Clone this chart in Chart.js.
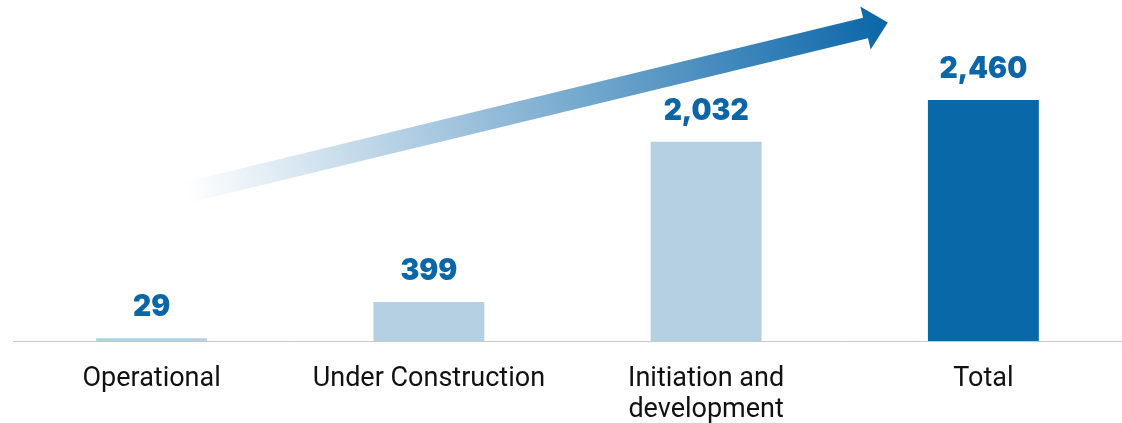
<!DOCTYPE html>
<html>
<head>
<meta charset="utf-8">
<script src="https://cdn.jsdelivr.net/npm/chart.js@4.4.0/dist/chart.umd.min.js"></script>
<style>
    html, body { margin: 0; padding: 0; background: #ffffff; }
    #wrap { width: 1122px; height: 423px; }
</style>
</head>
<body>
<div id="wrap"><canvas id="capacity-chart" width="1122" height="423"></canvas></div>
<script>
// Datos del gráfico
const categories = ['Operational', 'Under Construction', ['Initiation and', 'development'], 'Total'];
const capacityValues = [29, 399, 2032, 2460];
const barColors = ['#b4d0e2', '#b4d0e2', '#b4d0e2', '#0868a8'];

const labelColor = '#0b66a8';

// Etiquetas de valor encima de cada barra
const valueLabels = {
    id: 'valueLabels',
    afterDatasetsDraw(chart) {
        const ctx = chart.ctx;
        const meta = chart.getDatasetMeta(0);
        ctx.save();
        ctx.fillStyle = labelColor;
        ctx.font = '900 30px Inter, "DejaVu Sans", sans-serif';
        ctx.textAlign = 'center';
        ctx.textBaseline = 'alphabetic';
        meta.data.forEach((bar, i) => {
            const text = capacityValues[i].toLocaleString('en-US');
            ctx.save();
            ctx.translate(bar.x, bar.y - 22);
            ctx.scale(0.94, 1);
            ctx.fillText(text, 0, 0);
            ctx.restore();
        });
        ctx.restore();
    }
};

// Flecha de crecimiento con degradado, detrás de las barras
const growthArrow = {
    id: 'growthArrow',
    beforeDatasetsDraw(chart) {
        const ctx = chart.ctx;
        const tail = { x: 186.5, y: 192.5 };
        const base = { x: 865.5, y: 28 };
        const dx = base.x - tail.x;
        const dy = base.y - tail.y;
        const len = Math.sqrt(dx * dx + dy * dy);
        const ux = dx / len, uy = dy / len;
        const px = -uy, py = ux;
        const shaft = 10.5;
        const head = 22;
        const headLen = 23;
        const tip = { x: base.x + ux * headLen, y: base.y + uy * headLen };

        const grad = ctx.createLinearGradient(tail.x, tail.y, tip.x, tip.y);
        grad.addColorStop(0, 'rgba(10, 102, 168, 0)');
        grad.addColorStop(0.5, 'rgba(10, 102, 168, 0.5)');
        grad.addColorStop(1, 'rgba(10, 102, 168, 1)');

        ctx.save();
        ctx.fillStyle = grad;
        ctx.beginPath();
        ctx.moveTo(tail.x + px * shaft, tail.y + py * shaft);
        ctx.lineTo(base.x + px * shaft, base.y + py * shaft);
        ctx.lineTo(base.x + px * head, base.y + py * head);
        ctx.lineTo(tip.x, tip.y);
        ctx.lineTo(base.x - px * head, base.y - py * head);
        ctx.lineTo(base.x - px * shaft, base.y - py * shaft);
        ctx.lineTo(tail.x - px * shaft, tail.y - py * shaft);
        ctx.closePath();
        ctx.fill();
        ctx.restore();
    }
};

const ctx = document.getElementById('capacity-chart').getContext('2d');
const capacityChart = new Chart(ctx, {
    type: 'bar',
    data: {
        labels: categories,
        datasets: [{
            data: capacityValues,
            backgroundColor: barColors,
            borderWidth: 0,
            barPercentage: 0.4,
            categoryPercentage: 1
        }]
    },
    options: {
        responsive: false,
        animation: false,
        layout: {
            padding: { top: 47, left: 13, right: 0, bottom: 0 }
        },
        plugins: {
            legend: { display: false },
            tooltip: { enabled: false }
        },
        scales: {
            y: {
                display: false,
                min: 0,
                max: 3000
            },
            x: {
                grid: { display: false, drawTicks: false },
                border: { display: true, color: '#cfc8c0', width: 1, dash: [1, 2] },
                ticks: {
                    color: '#111111',
                    padding: 22,
                    font: { family: 'Roboto, sans-serif', size: 27, lineHeight: 1.17 }
                },
                afterFit(scale) {
                    scale.height = 82;
                }
            }
        }
    },
    plugins: [growthArrow, valueLabels]
});
</script>
</body>
</html>
